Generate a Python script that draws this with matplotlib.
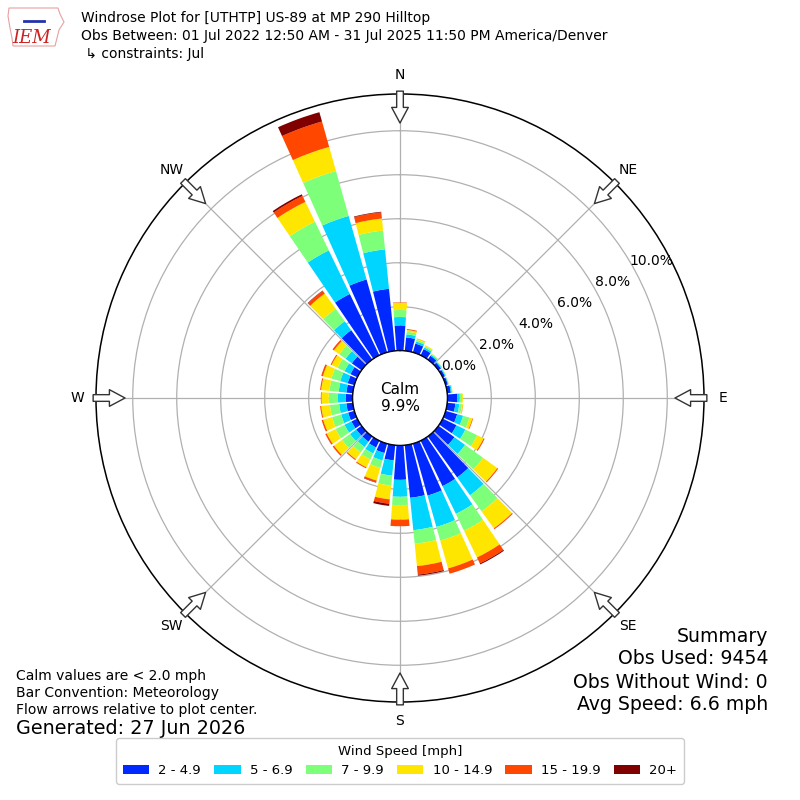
import numpy as np
import matplotlib.pyplot as plt
from matplotlib.patches import Polygon

# ====================== Wind rose data (percent of observations) ======================
directions = np.arange(0, 360, 10)
speed_bins = ['2 - 4.9', '5 - 6.9', '7 - 9.9', '10 - 14.9', '15 - 19.9', '20+']

#            0     10    20    30    40    50    60    70    80    90    100   110
freq_2_5 = [1.15, 0.62, 0.42, 0.32, 0.22, 0.15, 0.12, 0.11, 0.17, 0.45, 0.38, 0.55,
            0.70, 0.90, 2.30, 2.30, 2.46, 2.41, 1.57, 0.70, 0.45, 0.35, 0.30, 0.30,
            0.30, 0.30, 0.30, 0.32, 0.30, 0.32, 0.35, 0.55, 1.65, 3.10, 3.45, 2.84]
freq_5_7 = [0.38, 0.14, 0.10, 0.08, 0.06, 0.04, 0.04, 0.03, 0.05, 0.12, 0.18, 0.28,
            0.45, 0.60, 1.00, 1.40, 1.48, 1.48, 0.77, 0.70, 0.35, 0.30, 0.30, 0.35,
            0.35, 0.33, 0.33, 0.35, 0.35, 0.35, 0.30, 0.35, 0.50, 2.20, 3.00, 1.80]
freq_7_10 = [0.32, 0.12, 0.08, 0.07, 0.04, 0.03, 0.02, 0.02, 0.03, 0.10, 0.12, 0.30,
             0.60, 1.00, 0.90, 0.85, 0.65, 0.62, 0.38, 0.45, 0.35, 0.30, 0.30, 0.45,
             0.45, 0.43, 0.42, 0.42, 0.42, 0.42, 0.35, 0.35, 0.70, 1.45, 2.12, 0.86]
freq_10_15 = [0.33, 0.08, 0.05, 0.04, 0.02, 0.01, 0.01, 0.01, 0.01, 0.04, 0.05, 0.14,
              0.32, 0.80, 0.95, 1.35, 1.31, 1.02, 0.66, 0.63, 0.60, 0.40, 0.38, 0.45,
              0.45, 0.42, 0.40, 0.33, 0.38, 0.40, 0.30, 0.30, 0.85, 1.00, 1.14, 0.55]
freq_15_20 = [0.02, 0.04, 0.01, 0.00, 0.00, 0.00, 0.00, 0.00, 0.00, 0.00, 0.01, 0.03,
              0.05, 0.05, 0.05, 0.30, 0.25, 0.39, 0.30, 0.20, 0.08, 0.05, 0.05, 0.07,
              0.07, 0.07, 0.05, 0.03, 0.05, 0.08, 0.05, 0.08, 0.15, 0.30, 1.20, 0.28]
freq_20_up = [0.00, 0.00, 0.00, 0.00, 0.00, 0.00, 0.00, 0.00, 0.00, 0.00, 0.00, 0.00,
              0.00, 0.00, 0.00, 0.05, 0.00, 0.05, 0.00, 0.10, 0.02, 0.00, 0.00, 0.00,
              0.00, 0.00, 0.00, 0.00, 0.00, 0.00, 0.00, 0.00, 0.02, 0.08, 0.44, 0.03]
series = [freq_2_5, freq_5_7, freq_7_10, freq_10_15, freq_15_20, freq_20_up]

calm_pct = 9.9
rticks = [0, 2, 4, 6, 8, 10]
compass = ['N', 'NE', 'E', 'SE', 'S', 'SW', 'W', 'NW']

title_lines = ['Windrose Plot for [UTHTP] US-89 at MP 290 Hilltop',
               'Obs Between: 01 Jul 2022 12:50 AM - 31 Jul 2025 11:50 PM America/Denver',
               ' \u21b3 constraints: Jul']
notes = ['Calm values are < 2.0 mph', 'Bar Convention: Meteorology',
         'Flow arrows relative to plot center.']
summary = ['Summary', 'Obs Used: 9454', 'Obs Without Wind: 0', 'Avg Speed: 6.6 mph']

colors = plt.cm.jet(np.linspace(0, 1, 7)[1:])

# ====================== Plot ======================
fig = plt.figure(figsize=(8, 8), dpi=100)
ax = fig.add_axes([0.12, 0.1225, 0.76, 0.76], projection='polar')
ax.set_theta_zero_location('N')
ax.set_theta_direction(-1)
ax.set_rorigin(-2.15)
ax.set_ylim(0, 11.67)

theta = np.radians(directions)
bottom = np.zeros(len(directions))
for vals, color, label in zip(series, colors, speed_bins):
    vals = np.array(vals)
    ax.bar(theta, vals, width=np.radians(10) * 0.85, bottom=bottom,
           color=color, edgecolor='none', label=label, zorder=3)
    bottom += vals

ax.set_axisbelow(True)
ax.set_rticks(rticks)
ax.set_yticklabels([])
ax.set_xticks(np.radians(np.arange(0, 360, 45)))
ax.set_xticklabels([])
ax.grid(True, color='#b0b0b0', linewidth=0.9)
ax.spines['polar'].set_linewidth(1.1)

# calm circle
circ = np.linspace(0, 2 * np.pi, 361)
ax.plot(circ, np.zeros_like(circ), color='black', linewidth=1.2, zorder=4)
ax.text(0.5, 0.5, 'Calm\n%.1f%%' % calm_pct, transform=ax.transAxes,
        ha='center', va='center', fontsize=11, linespacing=1.1)

# radial labels
for v in rticks:
    ax.text(np.radians(61.5), v + 0.86, '%.1f%%' % v, ha='center', va='center',
            fontsize=10, zorder=5)

# compass labels and flow arrows
for i, name in enumerate(compass):
    th = np.radians(i * 45)
    ax.text(th, 12.53, name, ha='center', va='center', fontsize=10)
    ax.annotate('', xy=(th, 10.35), xytext=(th, 11.8), annotation_clip=False,
                arrowprops=dict(arrowstyle='simple,head_length=0.75,head_width=0.8,tail_width=0.32',
                                fc='white', ec='#333333', lw=1, shrinkA=0, shrinkB=0,
                                mutation_scale=15))

# header with logo
for j, line in enumerate(title_lines):
    fig.text(0.101, 1 - (18 + 18 * j) / 800, line, va='center', fontsize=10)
iowa = np.array([[9, 8], [58, 8], [60, 14], [64, 22], [59, 30], [57, 38], [55, 46],
                 [13, 46], [12, 38], [10, 28], [8, 16]], dtype=float)
iowa[:, 0] /= 800
iowa[:, 1] = 1 - iowa[:, 1] / 800
fig.add_artist(Polygon(iowa, closed=True, fill=False, ec='#e8a0a0', lw=0.8,
                       transform=fig.transFigure))
fig.add_artist(plt.Line2D([0.03, 0.055], [1 - 21 / 800, 1 - 21 / 800], color='#2233aa',
                          lw=2, transform=fig.transFigure))
fig.text(0.04, 1 - 38 / 800, 'IEM', color='#cc2222', fontsize=13, style='italic',
         family='DejaVu Serif', ha='center', va='center')

# footer notes
for j, line in enumerate(notes):
    fig.text(0.02, 1 - (676 + 17 * j) / 800, line, va='center', fontsize=10)
fig.text(0.02, 1 - 729 / 800, 'Generated: 27 Jun 2026', va='center', fontsize=13.8)
for j, line in enumerate(summary):
    fig.text(0.96, 1 - (636 + 23 * j) / 800, line, ha='right', va='center', fontsize=13.6)

handles, labels = ax.get_legend_handles_labels()
fig.legend(handles, labels, loc='lower center', bbox_to_anchor=(0.5, 0.012), ncol=6,
           title='Wind Speed [mph]', fontsize=9.5, title_fontsize=9.5,
           handlelength=2.0, handleheight=0.7, handletextpad=0.7, columnspacing=1.0,
           borderpad=0.5, framealpha=1, edgecolor='#cccccc')

fig.savefig('out.png', dpi=100)
